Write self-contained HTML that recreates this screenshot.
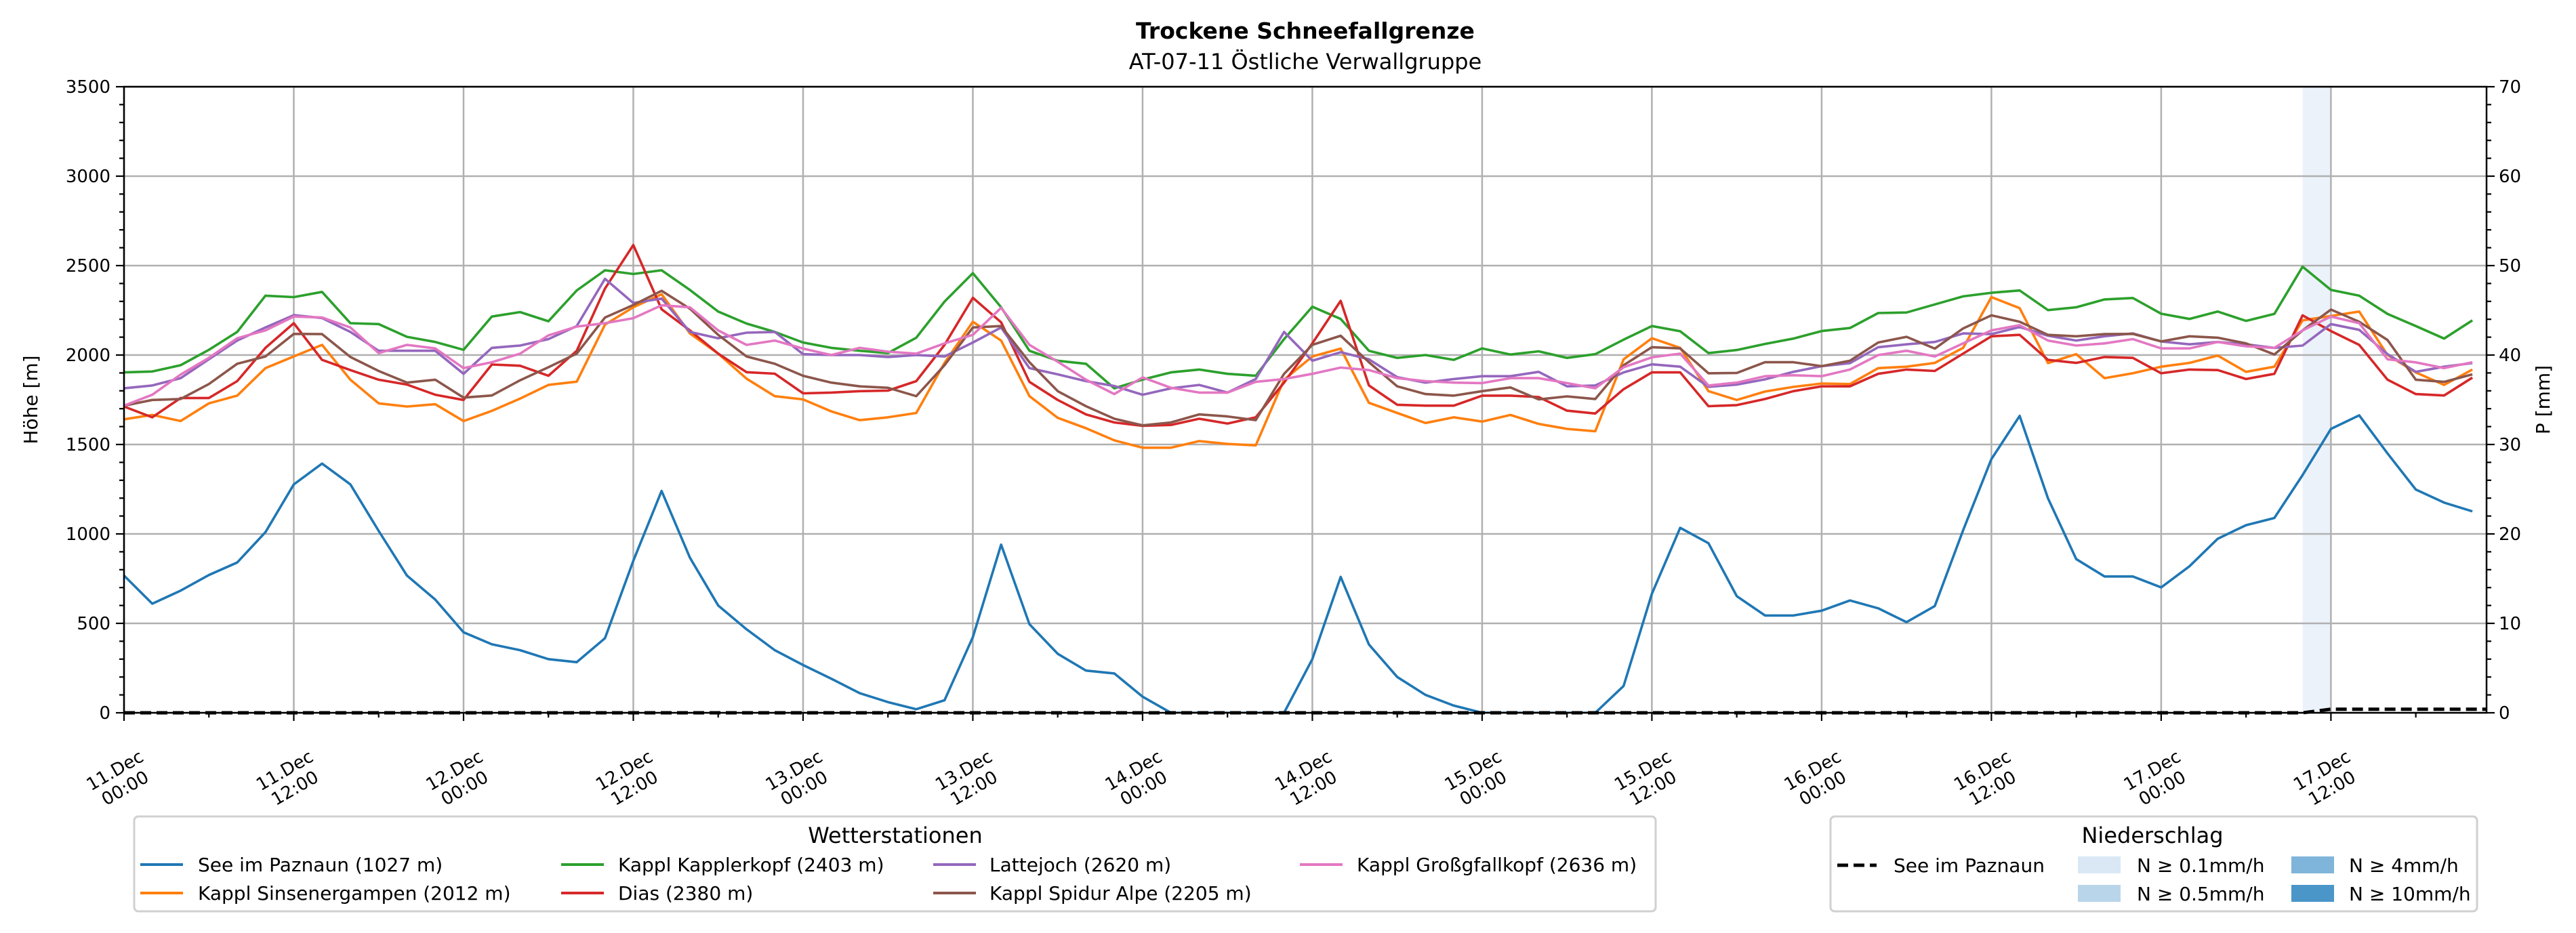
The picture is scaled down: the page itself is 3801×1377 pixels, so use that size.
<!DOCTYPE html>
<html><head><meta charset="utf-8">
<style>
html,body{margin:0;padding:0;background:#fff;}
svg{display:block;font-family:"DejaVu Sans","Liberation Sans",sans-serif;}
</style></head>
<body>
<svg id="chart" width="3801" height="1377" viewBox="0 0 3801 1377" xmlns="http://www.w3.org/2000/svg">
<rect width="3801" height="1377" fill="#fff"/>
<text x="1926" y="57" font-size="33" font-weight="bold" text-anchor="middle">Trockene Schneefallgrenze</text>
<text x="1926" y="102" font-size="32" text-anchor="middle">AT-07-11 Östliche Verwallgruppe</text>
<g id="plot"></g>
<text transform="translate(55,590) rotate(-90)" font-size="28" text-anchor="middle">Höhe [m]</text>
<text transform="translate(3762,590) rotate(-90)" font-size="28" text-anchor="middle">P [mm]</text>

<g>
<rect x="198" y="1205" width="2245" height="140" rx="6" fill="#fff" stroke="#d0d0d0" stroke-width="3"/>
<text x="1321" y="1244" font-size="32" text-anchor="middle">Wetterstationen</text>
<g><line x1="207" y1="1276" x2="270" y2="1276" stroke="#1f77b4" stroke-width="4"/><text x="292" y="1286" font-size="28">See im Paznaun (1027 m)</text></g>
<g><line x1="207" y1="1318" x2="270" y2="1318" stroke="#ff7f0e" stroke-width="4"/><text x="292" y="1328" font-size="28">Kappl Sinsenergampen (2012 m)</text></g>
<g><line x1="828" y1="1276" x2="891" y2="1276" stroke="#2ca02c" stroke-width="4"/><text x="912" y="1286" font-size="28">Kappl Kapplerkopf (2403 m)</text></g>
<g><line x1="828" y1="1318" x2="891" y2="1318" stroke="#d62728" stroke-width="4"/><text x="912" y="1328" font-size="28">Dias (2380 m)</text></g>
<g><line x1="1377" y1="1276" x2="1440" y2="1276" stroke="#9467bd" stroke-width="4"/><text x="1460" y="1286" font-size="28">Lattejoch (2620 m)</text></g>
<g><line x1="1377" y1="1318" x2="1440" y2="1318" stroke="#8c564b" stroke-width="4"/><text x="1460" y="1328" font-size="28">Kappl Spidur Alpe (2205 m)</text></g>
<g><line x1="1918" y1="1276" x2="1981" y2="1276" stroke="#e377c2" stroke-width="4"/><text x="2002" y="1286" font-size="28">Kappl Großgfallkopf (2636 m)</text></g>
</g>

<g>
<rect x="2701" y="1205" width="954" height="140" rx="6" fill="#fff" stroke="#d0d0d0" stroke-width="3"/>
<text x="3176" y="1244" font-size="32" text-anchor="middle">Niederschlag</text>
<g><line x1="2711" y1="1277" x2="2769" y2="1277" stroke="#000" stroke-width="5" stroke-dasharray="16,8"/><text x="2794" y="1287" font-size="28">See im Paznaun</text></g>
<g><rect x="3066" y="1264" width="63" height="25" fill="#dae8f5"/><text x="3153" y="1287" font-size="28">N ≥ 0.1mm/h</text></g>
<g><rect x="3066" y="1306" width="63" height="25" fill="#b9d5ea"/><text x="3153" y="1329" font-size="28">N ≥ 0.5mm/h</text></g>
<g><rect x="3381" y="1264" width="63" height="25" fill="#7fb5da"/><text x="3466" y="1287" font-size="28">N ≥ 4mm/h</text></g>
<g><rect x="3381" y="1306" width="63" height="25" fill="#4a96c9"/><text x="3466" y="1329" font-size="28">N ≥ 10mm/h</text></g>
</g>
</svg>
<script>
const hours = [0,2,4,6,8,10,12,14,16,18,20,22,24,26,28,30,32,34,36,38,40,42,44,46,48,50,52,54,56,58,60,62,64,66,68,70,72,74,76,78,80,82,84,86,88,90,92,94,96,98,100,102,104,106,108,110,112,114,116,118,120,122,124,126,128,130,132,134,136,138,140,142,144,146,148,150,152,154,156,158,160,162,164,166];
const seeIm = [767,610,683,770,840,1010,1277,1393,1277,1017,767,633,450,383,350,300,283,417,850,1240,867,600,467,350,267,190,110,60,20,70,423,940,495,330,236,220,90,0,0,0,0,0,300,760,382,200,100,40,0,0,0,0,0,150,665,1034,948,652,544,544,571,628,584,507,597,1021,1418,1660,1199,859,762,762,701,819,973,1049,1089,1329,1587,1663,1450,1248,1175,1126];
const sinsenergampen = [1641,1665,1631,1730,1773,1927,1992,2057,1862,1730,1712,1725,1631,1688,1757,1833,1851,2170,2267,2340,2121,2008,1868,1770,1752,1685,1636,1652,1676,1956,2186,2081,1770,1649,1591,1523,1482,1482,1519,1503,1495,1862,1992,2036,1733,1676,1620,1652,1628,1665,1615,1587,1574,1976,2094,2040,1798,1749,1796,1822,1841,1838,1927,1935,1956,2040,2324,2262,1955,2005,1871,1898,1935,1956,1997,1906,1935,2194,2218,2243,2000,1903,1833,1919];
const kapplerkopf = [1903,1908,1943,2029,2129,2332,2324,2353,2178,2173,2102,2073,2029,2215,2240,2189,2361,2474,2453,2474,2364,2243,2176,2129,2070,2040,2024,2011,2097,2299,2458,2267,2024,1968,1951,1814,1863,1903,1919,1895,1884,2089,2270,2202,2024,1984,2000,1973,2037,2003,2021,1984,2005,2086,2162,2133,2011,2028,2062,2092,2134,2151,2235,2238,2283,2328,2348,2361,2251,2267,2311,2319,2231,2202,2243,2191,2230,2494,2364,2332,2230,2162,2092,2194];
const dias = [1712,1652,1760,1760,1854,2040,2178,1973,1916,1862,1835,1778,1749,1947,1940,1884,2024,2372,2615,2256,2138,2008,1904,1896,1786,1790,1798,1801,1854,2057,2320,2183,1850,1749,1668,1623,1604,1609,1644,1617,1652,1846,2065,2303,1830,1722,1717,1717,1773,1773,1765,1689,1673,1809,1903,1903,1714,1720,1754,1798,1825,1825,1895,1919,1911,2008,2105,2113,1973,1956,1989,1984,1898,1919,1916,1866,1895,2222,2134,2057,1862,1782,1774,1874];
const lattejoch = [1814,1830,1871,1976,2081,2154,2223,2207,2129,2024,2024,2024,1895,2040,2053,2089,2162,2426,2291,2316,2129,2094,2125,2129,2005,2000,2000,1989,2000,1992,2070,2154,1927,1892,1854,1827,1778,1814,1833,1790,1866,2129,1968,2016,1976,1876,1846,1866,1882,1882,1906,1825,1830,1903,1948,1935,1822,1835,1864,1906,1938,1955,2044,2060,2073,2121,2117,2157,2108,2081,2105,2121,2076,2060,2073,2060,2040,2053,2173,2141,2005,1906,1935,1955];
const spidurAlpe = [1717,1749,1754,1838,1951,1992,2118,2117,1989,1911,1846,1862,1762,1774,1859,1932,2008,2210,2280,2359,2259,2113,1992,1951,1884,1846,1825,1817,1770,1943,2154,2162,1960,1798,1714,1644,1607,1623,1668,1657,1636,1895,2057,2108,1960,1825,1782,1773,1798,1819,1752,1769,1754,1943,2044,2037,1898,1900,1960,1960,1938,1968,2070,2102,2036,2149,2222,2186,2113,2105,2117,2118,2076,2105,2097,2065,2003,2138,2254,2186,2084,1862,1850,1892];
const grossgfallkopf = [1717,1778,1891,1984,2094,2138,2215,2210,2154,2011,2057,2037,1927,1960,2008,2110,2159,2178,2206,2278,2267,2138,2057,2081,2036,2000,2040,2019,2008,2065,2113,2264,2057,1963,1862,1782,1875,1817,1790,1790,1850,1866,1895,1930,1916,1871,1854,1846,1843,1871,1871,1843,1814,1932,1987,2008,1830,1846,1882,1887,1882,1919,2000,2024,1992,2065,2138,2167,2081,2053,2065,2089,2037,2037,2073,2049,2040,2138,2215,2178,1976,1959,1927,1960];
const precipHours = [0,154,156,167];
const precipValues = [0,0,0.4,0.4];
const precipBandStart = [154];
const precipBandEnd = [156];
const yTicks = [0,500,1000,1500,2000,2500,3000,3500];
const y2Ticks = [0,10,20,30,40,50,60,70];
const xTickHours = [0,12,24,36,48,60,72,84,96,108,120,132,144,156];
const xTickDates = ["11.Dec","11.Dec","12.Dec","12.Dec","13.Dec","13.Dec","14.Dec","14.Dec","15.Dec","15.Dec","16.Dec","16.Dec","17.Dec","17.Dec"];
const xTickTimes = ["00:00","12:00","00:00","12:00","00:00","12:00","00:00","12:00","00:00","12:00","00:00","12:00","00:00","12:00"];

const L=183,R=3669,T=128,B=1052,XMAX=167,YMAX=3500,PMAX=70;
const NS="http://www.w3.org/2000/svg";
const xs=t=>L+t*(R-L)/XMAX;
const ys=v=>B-v*(B-T)/YMAX;
const yp=p=>B-p*(B-T)/PMAX;
const plot=document.getElementById('plot');
function mk(tag,attrs,parent){const e=document.createElementNS(NS,tag);for(const k in attrs)e.setAttribute(k,attrs[k]);(parent||plot).appendChild(e);return e;}

for(let i=0;i<precipBandStart.length;i++){
  const r=mk('rect',{x:xs(precipBandStart[i]),y:T,width:xs(precipBandEnd[i])-xs(precipBandStart[i]),height:B-T,fill:'#ecf2fa'});
  
  
}
yTicks.forEach(v=>{const g=mk('line',{x1:L,x2:R,y1:ys(v),y2:ys(v),stroke:'#b0b0b0','stroke-width':2.5});
  
  });
xTickHours.forEach(h=>{const g=mk('line',{x1:xs(h),x2:xs(h),y1:T,y2:B,stroke:'#b0b0b0','stroke-width':2.5});
  
  });

const series=[[seeIm,'#1f77b4','series-see-im-paznaun'],[sinsenergampen,'#ff7f0e','series-sinsenergampen'],[kapplerkopf,'#2ca02c','series-kapplerkopf'],[dias,'#d62728','series-dias'],[lattejoch,'#9467bd','series-lattejoch'],[spidurAlpe,'#8c564b','series-spidur-alpe'],[grossgfallkopf,'#e377c2','series-grossgfallkopf']];
const clip=mk('clipPath',{id:'pc'});mk('rect',{x:L,y:T,width:R-L,height:B-T},clip);
series.forEach(([vals,col,name])=>{
  const pts=vals.map((v,i)=>xs(hours[i]).toFixed(1)+','+ys(v).toFixed(1)).join(' ');
  const p=mk('polyline',{points:pts,fill:'none',stroke:col,'stroke-width':3.6,'stroke-linejoin':'round','clip-path':'url(#pc)'});
  
  
});
const pp=mk('polyline',{points:precipHours.map((h,i)=>xs(h).toFixed(1)+','+yp(precipValues[i]).toFixed(1)).join(' '),fill:'none',stroke:'#000','stroke-width':5,'stroke-dasharray':'16,8'});



const fr=mk('rect',{x:L,y:T,width:R-L,height:B-T,fill:'none',stroke:'#000','stroke-width':2.5});



for(let v=0;v<=YMAX;v+=100){const maj=v%500===0;mk('line',{x1:L-(maj?12:7),x2:L,y1:ys(v),y2:ys(v),stroke:'#000','stroke-width':2.2});}
yTicks.forEach(v=>{const t=mk('text',{x:L-20,y:ys(v)+9,'font-size':26,'text-anchor':'end'});t.textContent=v;
  
  });
for(let p=0;p<=PMAX;p+=2){const maj=p%10===0;mk('line',{x1:R,x2:R+(maj?12:7),y1:yp(p),y2:yp(p),stroke:'#000','stroke-width':2.2});}
y2Ticks.forEach(p=>{const t=mk('text',{x:R+18,y:yp(p)+9,'font-size':26,'text-anchor':'start'});t.textContent=p;
  
  });
for(let h=0;h<=XMAX;h+=6){const maj=h%12===0;mk('line',{x1:xs(h),x2:xs(h),y1:B,y2:B+(maj?12:7),stroke:'#000','stroke-width':2.2});}
xTickHours.forEach((h,i)=>{
  const g=mk('g',{transform:'translate('+(xs(h)-6)+',1150) rotate(-30)'});
  
  
  const a=mk('text',{x:0,y:-6,'font-size':26,'text-anchor':'middle'},g);a.textContent=xTickDates[i];
  const b=mk('text',{x:0,y:24,'font-size':26,'text-anchor':'middle'},g);b.textContent=xTickTimes[i];
});
</script>
</body></html>
